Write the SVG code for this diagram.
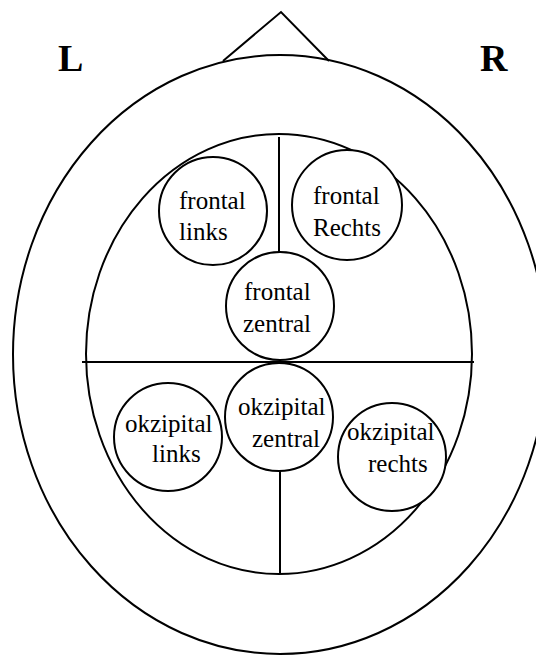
<svg xmlns="http://www.w3.org/2000/svg" width="536" height="655" viewBox="0 0 536 655">
<style>
.ln{fill:none;stroke:#000;stroke-width:2}
.nd{fill:#fff;stroke:#000;stroke-width:2}
.t{font-family:"Liberation Serif","Times New Roman",serif;font-size:25px;fill:#000}
.lr{font-family:"Liberation Serif","Times New Roman",serif;font-size:38px;font-weight:bold;fill:#000}
</style>
<rect width="536" height="655" fill="#fff"/>
<g id="head">
<path class="ln" d="M223,61 L281,12 L329,61"/>
<ellipse class="ln" cx="280" cy="354.5" rx="267" ry="299.5"/>
<ellipse class="ln" cx="279" cy="354" rx="193" ry="220"/>
</g>
<g id="connectors">
<line class="ln" x1="279" y1="137" x2="279" y2="252"/>
<line class="ln" x1="82" y1="362" x2="474" y2="362"/>
<line class="ln" x1="280" y1="470" x2="280" y2="574"/>
</g>
<g id="frontal-links">
<circle class="nd" cx="213" cy="211" r="54"/>
<text class="t" x="179" y="209">frontal</text>
<text class="t" x="179" y="240">links</text>
</g>
<g id="frontal-rechts">
<circle class="nd" cx="347" cy="205" r="55"/>
<text class="t" x="313" y="204">frontal</text>
<text class="t" x="313" y="236">Rechts</text>
</g>
<g id="frontal-zentral">
<circle class="nd" cx="280" cy="306" r="54"/>
<text class="t" x="244" y="300">frontal</text>
<text class="t" x="243" y="332">zentral</text>
</g>
<g id="okzipital-links">
<circle class="nd" cx="168" cy="437" r="54"/>
<text class="t" x="125" y="432">okzipital</text>
<text class="t" x="152" y="462">links</text>
</g>
<g id="okzipital-zentral">
<circle class="nd" cx="279" cy="417" r="54"/>
<text class="t" x="238" y="415">okzipital</text>
<text class="t" x="252" y="447">zentral</text>
</g>
<g id="okzipital-rechts">
<circle class="nd" cx="392" cy="457" r="54"/>
<text class="t" x="347" y="440">okzipital</text>
<text class="t" x="368" y="472">rechts</text>
</g>
<g id="labels">
<text class="lr" x="58" y="71">L</text>
<text class="lr" x="480" y="71">R</text>
</g>
</svg>
